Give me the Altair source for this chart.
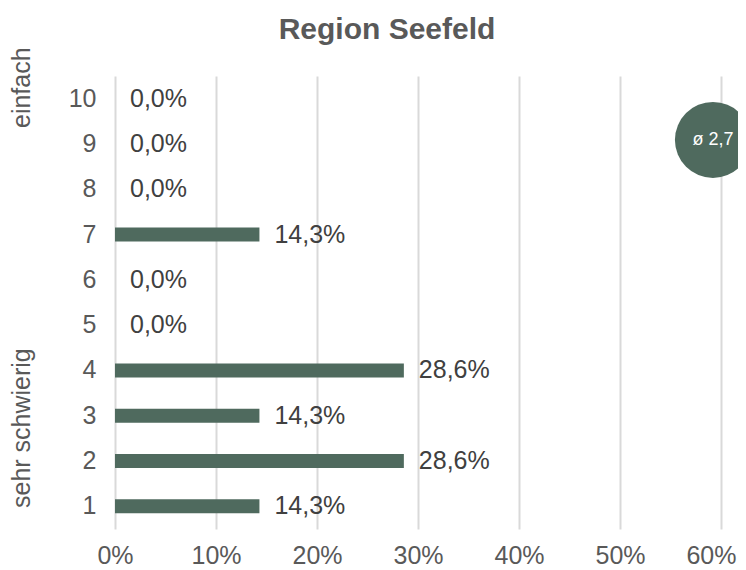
import altair as alt
import pandas as pd

categories = ["1", "2", "3", "4", "5", "6", "7", "8", "9", "10"]
shares = [14.3, 28.6, 14.3, 28.6, 0.0, 0.0, 14.3, 0.0, 0.0, 0.0]
labels = ["14,3%", "28,6%", "14,3%", "28,6%", "0,0%", "0,0%", "14,3%", "0,0%", "0,0%", "0,0%"]
x_ticks = [0, 10, 20, 30, 40, 50, 60]
avg_label = "ø 2,7"
avg_x = [59.2]
avg_cat = ["9"]

title_text = "Region Seefeld"
top_note = "einfach"
bottom_note = "sehr schwierig"

GREEN = "#4f6a5e"
FONT = "Liberation Sans"

df = pd.DataFrame({"cat": categories, "share": shares, "label": labels})
avg_df = pd.DataFrame({"x": avg_x, "cat": avg_cat, "t": [avg_label]})
order = list(reversed(categories))

yenc = alt.Y("cat:N", sort=order,
             scale=alt.Scale(paddingInner=0, paddingOuter=0),
             axis=alt.Axis(title=None, domain=False, ticks=False, labelPadding=19,
                           labelFontSize=25, labelColor="#595959", labelFont=FONT, grid=False))
xscale = alt.Scale(domain=[0, 60], nice=False)

bars = alt.Chart(df).mark_bar(size=14, color=GREEN).encode(
    x=alt.X("share:Q", scale=xscale,
            axis=alt.Axis(values=x_ticks, title=None, domain=False, ticks=False,
                          labelExpr="datum.value + '%'", labelPadding=14, labelFlush=False,
                          labelAlign={"condition": {"test": "datum.value == 60", "value": "right"},
                                      "value": "center"},
                          labelOffset={"condition": {"test": "datum.value == 60", "value": 15},
                                       "value": 0},
                          labelFontSize=25, labelColor="#595959", labelFont=FONT,
                          grid=True, gridColor="#d9d9d9", gridWidth=2)),
    y=yenc,
)

text = alt.Chart(df).mark_text(align="left", baseline="middle", dx=15, fontSize=25,
                               color="#404040", font=FONT).encode(
    x=alt.X("share:Q", scale=xscale),
    y=alt.Y("cat:N", sort=order),
    text="label:N",
)

circle = alt.Chart(avg_df).mark_point(filled=True, shape="circle", size=5776,
                                      color=GREEN, opacity=1, yOffset=-4).encode(
    x=alt.X("x:Q", scale=xscale),
    y=alt.Y("cat:N", sort=order),
)
circle_text = alt.Chart(avg_df).mark_text(color="white", fontSize=18, font=FONT,
                                          baseline="middle", align="center", yOffset=-4).encode(
    x=alt.X("x:Q", scale=xscale),
    y=alt.Y("cat:N", sort=order),
    text="t:N",
)

note_df = pd.DataFrame({"t": [top_note, bottom_note], "py": [52, 432]})
notes = alt.Chart(note_df).mark_text(angle=270, align="left", baseline="middle",
                                     fontSize=25, color="#595959", font=FONT).encode(
    x=alt.value(-93),
    y=alt.Y("py:Q", scale=None),
    text="t:N",
)

chart = alt.layer(bars, text, circle, circle_text, notes).properties(
    width=606, height=453,
    title=alt.TitleParams(title_text, fontSize=30, fontWeight="bold", color="#595959",
                          font=FONT, anchor="middle", dx=-31, offset=2),
    autosize=alt.AutoSizeParams(type="none"),
    padding={"left": 107, "top": 68, "right": 17, "bottom": 41},
).configure_view(stroke=None)

chart.save("out.html", embed_options={"renderer": "svg", "actions": False})
